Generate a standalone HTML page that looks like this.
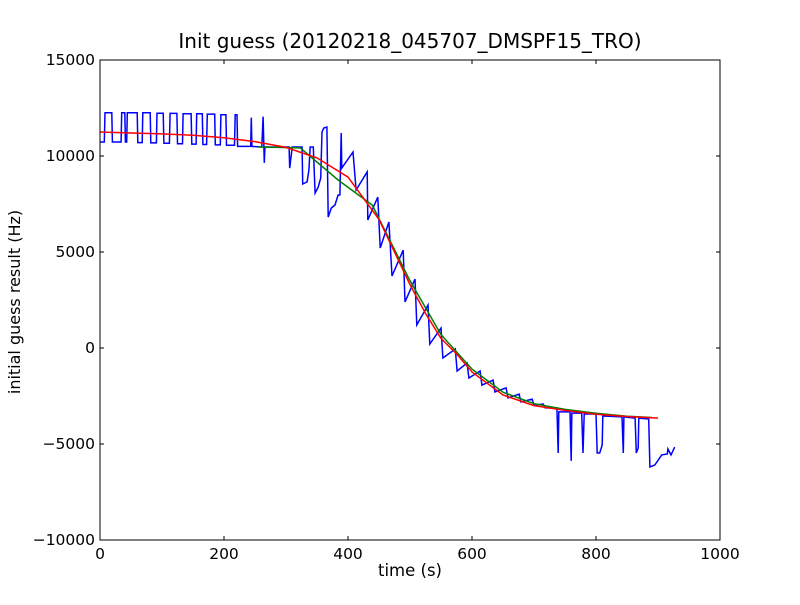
<!DOCTYPE html>
<html><head><meta charset="utf-8"><style>
body{margin:0;background:#fff;}
svg text{font-family:"DejaVu Sans","Liberation Sans",sans-serif;fill:#000;}
</style></head><body>
<svg id="chart" width="800" height="600" viewBox="0 0 800 600" xmlns="http://www.w3.org/2000/svg">
<rect x="0" y="0" width="800" height="600" fill="#fff"/>
<text x="410" y="48" font-size="20" text-anchor="middle">Init guess (20120218_045707_DMSPF15_TRO)</text>
<text x="410" y="576" font-size="16.5" text-anchor="middle">time (s)</text>
<text transform="translate(20,302) rotate(-90)" font-size="16" text-anchor="middle">initial guess result (Hz)</text>
<g id="series"></g>
<g id="axes"></g>
<rect x="100" y="60" width="620" height="480" fill="none" stroke="#000" stroke-width="1"/>
</svg>
<script>
const xTicks = [0, 200, 400, 600, 800, 1000];
const yTicks = [-10000, -5000, 0, 5000, 10000, 15000];
const yTickLabels = ["\u221210000", "\u22125000", "0", "5000", "10000", "15000"];
const blueT = [0,7,8,19,20,34,35,40,41,42,43,44,60,61,68,69,81,82,91,92,102,103,112,113,124,125,133,134,147,148,155,156,165,166,172,173,185,186,194,195,203,204,217,218,221,222,243,244,245,261,263,265,266,305,306,310,326,327,334,337,339,344,347,352,356,358,361,366,368,373,379,384,387,389,390,408,413,431,432,448,452,466,471,489,492,508,511,529,532,550,553,573,576,592,595,613,616,634,637,655,658,676,679,697,700,715,718,737,739,740,758,760,761,777,779,781,800,802,806,810,811,842,844,845,863,865,868,869,885,887,895,906,915,916,921,927];
const blueV = [10730,10730,12250,12250,10730,10730,12250,12250,10730,10730,10730,12250,12250,10700,10700,12250,12250,10680,10680,12230,12230,10660,10660,12220,12220,10640,10640,12200,12200,10620,10620,12200,12200,10600,10600,12180,12180,10580,10580,12150,12150,10560,10560,12150,12150,10500,10500,12000,10500,10470,12050,9640,10470,10470,9370,10470,10470,8540,8650,9270,10470,10470,8070,8380,8850,11250,11460,11510,6820,7290,7450,7970,7970,11200,9370,10210,8230,9170,6670,7860,5210,6560,3750,5100,2400,3590,1200,2240,210,1040,-520,-50,-1200,-780,-1560,-1200,-1930,-1670,-2290,-2080,-2600,-2400,-2810,-2660,-2970,-2920,-3120,-3120,-5470,-3330,-3330,-5880,-3390,-3390,-5470,-3440,-3440,-5470,-5470,-5050,-3540,-3590,-5470,-3590,-3650,-5470,-5210,-3650,-3700,-6200,-6090,-5570,-5520,-5260,-5570,-5160];
const greenT = [255,323,384,439,460,500,550,600,650,700,750,800,850,890];
const greenV = [10470,10420,8750,7450,6100,3500,700,-1100,-2300,-2900,-3200,-3400,-3550,-3620];
const redT = [0,50,100,150,200,250,300,350,400,450,475,500,525,550,575,600,650,700,750,800,850,900];
const redV = [11250,11200,11150,11080,10950,10750,10450,9900,8900,6700,5000,3300,1800,500,-300,-1250,-2450,-3000,-3250,-3450,-3570,-3650];

const X0=100,X1=720,Y0=540,Y1=60;
function xs(t){return X0+(t-0)/(1000-0)*(X1-X0);}
function ys(v){return Y0-(v+10000)/25000*(Y0-Y1);}
const NS="http://www.w3.org/2000/svg";
const sg=document.getElementById('series');
function line(T,V,color,name){
  const p=document.createElementNS(NS,'polyline');
  p.setAttribute('points',T.map((t,i)=>xs(t).toFixed(1)+','+ys(V[i]).toFixed(1)).join(' '));
  p.setAttribute('fill','none');p.setAttribute('stroke',color);p.setAttribute('stroke-width','1.5');
  
  
  sg.appendChild(p);
}
line(blueT,blueV,'#0000ff','blue-series-line');
line(greenT,greenV,'#008000','green-series-line');
line(redT,redV,'#ff0000','red-series-line');

const ag=document.getElementById('axes');
xTicks.forEach(t=>{
  const x=xs(t);
  [[Y0,Y0-4],[Y1,Y1+4]].forEach(([a,b])=>{
    const l=document.createElementNS(NS,'line');
    l.setAttribute('x1',x);l.setAttribute('x2',x);l.setAttribute('y1',a);l.setAttribute('y2',b);l.setAttribute('stroke','#000');
    
    
    ag.appendChild(l);
  });
  const tx=document.createElementNS(NS,'text');
  tx.setAttribute('x',x);tx.setAttribute('y',Y0+19);tx.setAttribute('font-size','15.5');tx.setAttribute('text-anchor','middle');
  tx.textContent=String(t);
  
  
  ag.appendChild(tx);
});
yTicks.forEach((v,i)=>{
  const y=ys(v);
  [[X0,X0+4],[X1,X1-4]].forEach(([a,b])=>{
    const l=document.createElementNS(NS,'line');
    l.setAttribute('x1',a);l.setAttribute('x2',b);l.setAttribute('y1',y);l.setAttribute('y2',y);l.setAttribute('stroke','#000');
    
    
    ag.appendChild(l);
  });
  const tx=document.createElementNS(NS,'text');
  tx.setAttribute('x',X0-5);tx.setAttribute('y',y+5);tx.setAttribute('font-size','15.5');tx.setAttribute('text-anchor','end');
  tx.textContent=yTickLabels[i];
  
  
  ag.appendChild(tx);
});
</script>
</body></html>
